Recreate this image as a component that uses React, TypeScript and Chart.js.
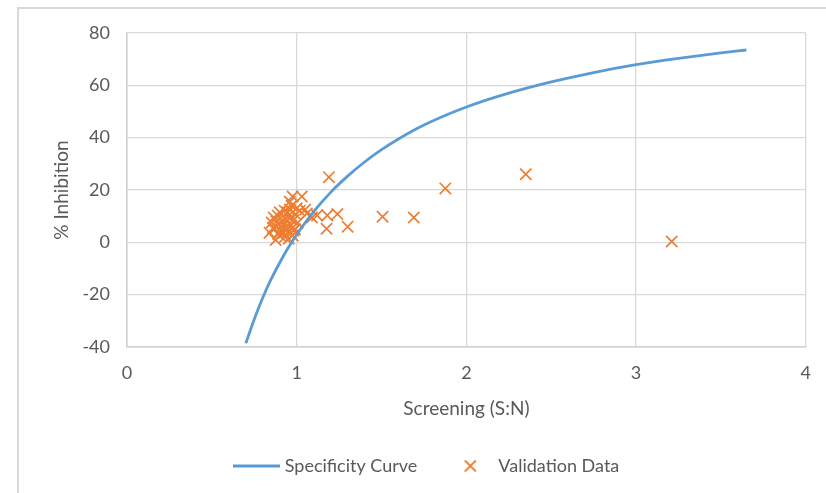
import React, { useEffect, useRef } from "react";
import { Chart, registerables } from "chart.js";

Chart.register(...registerables);

// Specificity curve
const curveX = [0.70, 0.75, 0.80, 0.85, 0.90, 0.95, 1.00, 1.10, 1.20, 1.30, 1.40, 1.50, 1.60, 1.75, 2.00, 2.25, 2.50, 2.75, 3.00, 3.25, 3.50, 3.65];
const curveY = [-38.6, -29.4, -21.2, -14.0, -7.8, -2.1, 2.9, 11.7, 19.1, 25.3, 30.7, 35.4, 39.5, 44.8, 51.7, 57.0, 61.3, 64.9, 67.9, 70.3, 72.4, 73.5];

// Validation data
const valX = [
  3.21, 2.35, 1.876, 1.69, 1.506, 1.30, 1.19, 1.176, 1.24, 1.18, 1.12, 1.06, 1.09, 1.05, 0.976, 1.03, 0.96,
  0.84, 0.853, 0.87, 0.888, 0.90, 0.918, 0.929, 0.94, 0.953, 0.959, 0.97, 0.982, 0.994, 1.006, 1.018,
  0.876, 0.924, 0.947, 0.912, 0.965, 0.935, 0.894, 0.865, 0.976, 1.0, 0.906,
  0.86, 0.89, 0.92, 0.95, 0.98, 0.90, 0.93, 0.96, 0.88, 0.99,
];
const valY = [
  0.3, 26, 20.6, 9.5, 9.8, 6, 24.9, 5.2, 10.8, 10.3, 10.3, 11, 9.5, 12.5, 17.5, 17.5, 15.5,
  3.7, 7.6, 5.2, 10.2, 2.6, 8.3, 12.1, 6.0, 1.4, 9.1, 14, 4.5, 10.6, 7.5, 12.1,
  0.9, 3.7, 11.4, 6, 6.4, 9.1, 6.8, 9.5, 2.6, 13, 4.5,
  5.5, 3.2, 7.0, 4.0, 8.5, 11.5, 2.0, 12.5, 8.0, 5.0,
];

const xTicks = [0, 1, 2, 3, 4];
const yTicks = [-40, -20, 0, 20, 40, 60, 80];

const BLUE = "#5b9bd5";
const ORANGE = "#ed7d31";
const TEXT = "#595959";
const GRID = "#d9d9d9";
const FONT = "Lato";

export default function App() {
  const ref = useRef<HTMLCanvasElement>(null);

  useEffect(() => {
    const canvas = ref.current!;

    const lineImg = document.createElement("canvas");
    lineImg.width = 47;
    lineImg.height = 4;
    const lc = lineImg.getContext("2d")!;
    lc.strokeStyle = BLUE;
    lc.lineWidth = 3;
    lc.beginPath();
    lc.moveTo(0, 2);
    lc.lineTo(47, 2);
    lc.stroke();

    const crossImg = document.createElement("canvas");
    crossImg.width = 14;
    crossImg.height = 14;
    const cc = crossImg.getContext("2d")!;
    cc.strokeStyle = ORANGE;
    cc.lineWidth = 1.8;
    cc.beginPath();
    cc.moveTo(1.5, 1.5);
    cc.lineTo(12.5, 12.5);
    cc.moveTo(12.5, 1.5);
    cc.lineTo(1.5, 12.5);
    cc.stroke();

    const shiftLegend = {
      id: "shiftLegend",
      afterLayout(chart: any) {
        const l = chart.legend;
        if (l) {
          l.left += 25;
          l.right += 25;
        }
      },
    };

    const chart = new Chart(canvas, {
      type: "scatter",
      data: {
        datasets: [
          {
            type: "line",
            label: "Specificity Curve",
            data: curveX.map((x, i) => ({ x, y: curveY[i] })),
            borderColor: BLUE,
            backgroundColor: BLUE,
            borderWidth: 2.8,
            pointRadius: 0,
            fill: false,
            cubicInterpolationMode: "monotone",
          } as any,
          {
            type: "scatter",
            label: "Validation Data",
            data: valX.map((x, i) => ({ x, y: valY[i] })),
            pointStyle: "crossRot",
            pointRadius: 8,
            borderColor: ORANGE,
            backgroundColor: ORANGE,
            pointBorderWidth: 1.7,
          } as any,
        ],
      },
      options: {
        responsive: false,
        animation: false,
        events: [],
        layout: { padding: { left: 0, right: 19, top: 33, bottom: 8 } },
        plugins: {
          tooltip: { enabled: false },
          legend: {
            position: "bottom",
            labels: {
              usePointStyle: true,
              pointStyleWidth: 38,
              padding: 34,
              color: TEXT,
              font: { family: FONT, size: 18 },
              generateLabels: () => [
                {
                  text: "Specificity Curve",
                  pointStyle: lineImg,
                  fillStyle: BLUE,
                  strokeStyle: BLUE,
                  lineWidth: 0,
                  hidden: false,
                  datasetIndex: 0,
                  fontColor: TEXT,
                } as any,
                {
                  text: "Validation Data",
                  pointStyle: crossImg,
                  fillStyle: ORANGE,
                  strokeStyle: ORANGE,
                  lineWidth: 0,
                  hidden: false,
                  datasetIndex: 1,
                  fontColor: TEXT,
                } as any,
              ],
            },
          },
        },
        scales: {
          x: {
            type: "linear",
            min: 0,
            max: 4,
            afterBuildTicks: (s: any) => {
              s.ticks = xTicks.map((v) => ({ value: v }));
            },
            afterFit: (s: any) => {
              s.height = 76;
            },
            ticks: { color: TEXT, font: { family: FONT, size: 18 }, padding: 15 },
            grid: { color: GRID, lineWidth: 1.3, drawTicks: false },
            border: { color: "#cfcfcf", width: 1.5 },
            title: {
              display: true,
              text: "Screening (S:N)",
              color: TEXT,
              font: { family: FONT, size: 19 },
              padding: { top: 0, bottom: 3 },
            },
          },
          y: {
            type: "linear",
            min: -40,
            max: 80,
            afterBuildTicks: (s: any) => {
              s.ticks = yTicks.map((v) => ({ value: v }));
            },
            afterFit: (s: any) => {
              s.width = 127;
            },
            ticks: { color: TEXT, font: { family: FONT, size: 18 }, padding: 17 },
            grid: { color: GRID, lineWidth: 1.3, drawTicks: false },
            border: { color: "#cfcfcf", width: 1.5 },
            title: {
              display: true,
              text: "% Inhibition",
              color: TEXT,
              font: { family: FONT, size: 19 },
              padding: { top: 50, bottom: 0 },
            },
          },
        },
      },
      plugins: [shiftLegend],
    } as any);

    return () => chart.destroy();
  }, []);

  return (
    <div
      style={{
        position: "fixed",
        left: 0,
        top: 0,
        width: 826,
        height: 493,
        overflow: "hidden",
        background: "#ffffff",
      }}
    >
      <div
        style={{
          position: "absolute",
          left: 17,
          top: 7,
          right: -10,
          bottom: -10,
          borderLeft: "2px solid #d9d9d9",
          borderTop: "2px solid #d9d9d9",
        }}
      />
      <canvas
        ref={ref}
        width={826}
        height={493}
        style={{ position: "absolute", left: 0, top: 0, width: 826, height: 493 }}
      />
    </div>
  );
}
